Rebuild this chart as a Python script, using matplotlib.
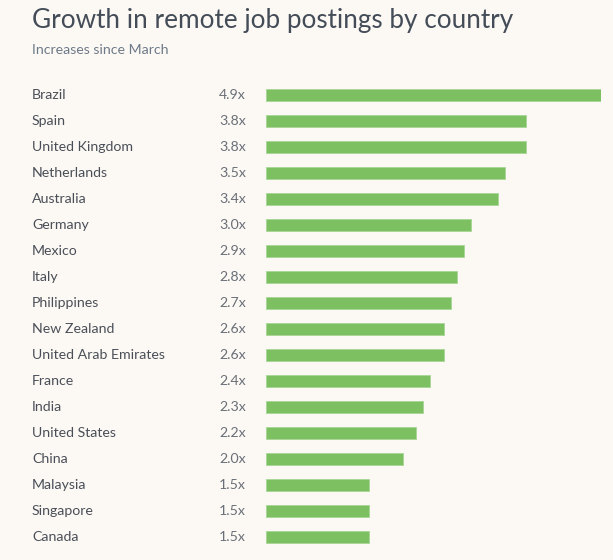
import matplotlib.pyplot as plt

countries = ["Brazil", "Spain", "United Kingdom", "Netherlands", "Australia", "Germany",
             "Mexico", "Italy", "Philippines", "New Zealand", "United Arab Emirates", "France",
             "India", "United States", "China", "Malaysia", "Singapore", "Canada"]
growth = [4.9, 3.8, 3.8, 3.5, 3.4, 3.0, 2.9, 2.8, 2.7, 2.6, 2.6, 2.4, 2.3, 2.2, 2.0, 1.5, 1.5, 1.5]

bg = "#fcf9f5"
green = "#7dc062"
text_col = "#4a4f57"

plt.rcParams['font.family'] = ['Lato', 'DejaVu Sans']

fig = plt.figure(figsize=(6.13, 5.6), dpi=100, facecolor=bg)
ax = fig.add_axes([266 / 613, 10 / 560, 335 / 613, 468 / 560])
ax.set_facecolor(bg)

ypos = list(range(len(countries)))
ax.barh(ypos, growth, height=0.46, color=green, edgecolor="#a8d596", linewidth=0.6)
ax.set_xlim(0, 4.9)
ax.set_ylim(len(countries) - 0.5, -0.5)
ax.axis("off")

for i, (c, g) in enumerate(zip(countries, growth)):
    ax.annotate(c, xy=(0, i), xycoords=("axes fraction", "data"),
                xytext=(-234, 0), textcoords="offset pixels",
                ha="left", va="center", fontsize=10.2, color=text_col)
    ax.annotate(f"{g:.1f}x", xy=(0, i), xycoords=("axes fraction", "data"),
                xytext=(-20, 0), textcoords="offset pixels",
                ha="right", va="center", fontsize=10.2, color="#6a6f77")

fig.text(32 / 613, 1 - 28 / 560, "Growth in remote job postings by country",
         fontsize=18.8, color="#434c57", ha="left", va="baseline")
fig.text(32 / 613, 1 - 54 / 560, "Increases since March",
         fontsize=10.2, color="#6e7a88", ha="left", va="baseline")

fig.savefig("out.png", dpi=100, facecolor=bg)
